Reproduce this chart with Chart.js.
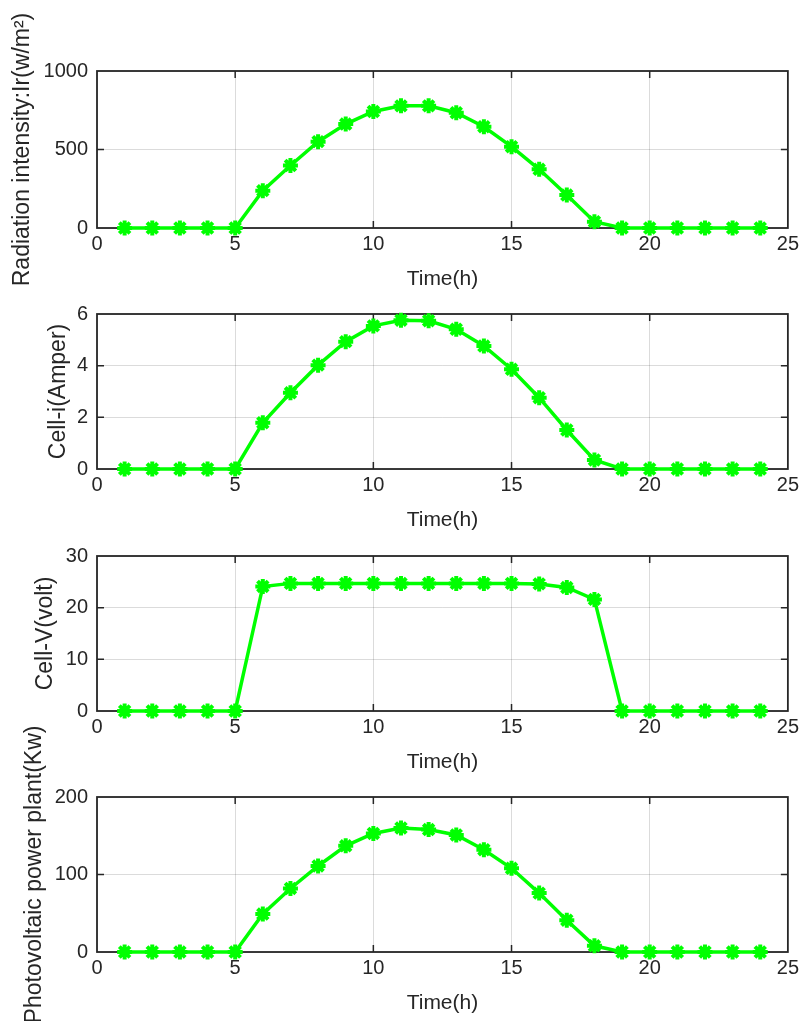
<!DOCTYPE html>
<html>
<head>
<meta charset="utf-8">
<script src="https://cdn.jsdelivr.net/npm/chart.js@4.4.0/dist/chart.umd.min.js"></script>
<style>
  html, body { margin: 0; padding: 0; background: #ffffff; width: 803px; height: 1021px; overflow: hidden; }
  .panel { position: absolute; left: 0; width: 803px; }
</style>
</head>
<body>
<div class="panel" id="p1" style="top:-9px;height:307px"><canvas id="c1"></canvas></div>
<div class="panel" id="p2" style="top:234px;height:305px"><canvas id="c2"></canvas></div>
<div class="panel" id="p3" style="top:476px;height:305px"><canvas id="c3"></canvas></div>
<div class="panel" id="p4" style="top:717px;height:305px"><canvas id="c4"></canvas></div>
<script>
// ---- data ----
const hours = [1,2,3,4,5,6,7,8,9,10,11,12,13,14,15,16,17,18,19,20,21,22,23,24];
const radiation = [0,0,0,0,0,238,398,550,662,742,778,778,734,645,518,374,210,40,0,0,0,0,0,0];
const cellCurrent = [0,0,0,0,0,1.79,2.95,4.02,4.93,5.54,5.76,5.74,5.41,4.76,3.86,2.76,1.51,0.35,0,0,0,0,0,0];
const cellVoltage = [0,0,0,0,0,24.1,24.7,24.7,24.7,24.7,24.7,24.7,24.7,24.7,24.7,24.6,23.9,21.6,0,0,0,0,0,0];
const pvPower = [0,0,0,0,0,49,82,111,137,153,160,158,151,132,108,76,41,8,0,0,0,0,0,0];

const xTicks = [0,5,10,15,20,25];
const yTicksRadiation = [0,500,1000];
const yTicksCurrent = [0,2,4,6];
const yTicksVoltage = [0,10,20,30];
const yTicksPower = [0,100,200];

const xTitle = 'Time(h)';
const yTitles = ['Radiation intensity:Ir(w/m\u00B2)', 'Cell-i(Amper)', 'Cell-V(volt)', 'Photovoltaic power plant(Kw)'];

// ---- styling ----
const FONT = '"Liberation Sans", Arial, Helvetica, sans-serif';
const TXT = '#262626';
const GREEN = '#00ff00';

const boxPlugin = {
  id: 'boxTicks',
  beforeDatasetsDraw(chart) {
    const ctx = chart.ctx;
    const a = chart.chartArea;
    const xs = chart.scales.x, ys = chart.scales.y;
    const L = 7;
    ctx.save();
    ctx.strokeStyle = TXT;
    ctx.lineWidth = 1.5;
    ctx.beginPath();
    xs.ticks.forEach(t => {
      const px = xs.getPixelForValue(t.value);
      if (Math.abs(px - a.left) < 1 || Math.abs(px - a.right) < 1) return;
      ctx.moveTo(px, a.bottom); ctx.lineTo(px, a.bottom - L);
      ctx.moveTo(px, a.top); ctx.lineTo(px, a.top + L);
    });
    ys.ticks.forEach(t => {
      const py = ys.getPixelForValue(t.value);
      if (Math.abs(py - a.top) < 1 || Math.abs(py - a.bottom) < 1) return;
      ctx.moveTo(a.left, py); ctx.lineTo(a.left + L, py);
      ctx.moveTo(a.right, py); ctx.lineTo(a.right - L, py);
    });
    ctx.stroke();
    ctx.lineWidth = 1.8;
    ctx.strokeRect(a.left, a.top, a.right - a.left, a.bottom - a.top);
    ctx.restore();
  }
};

function makePanel(id, values, yTicks, yTitle, titlePad) {
  const data = hours.map((h, i) => ({ x: h, y: values[i] }));
  const yMin = yTicks[0], yMax = yTicks[yTicks.length - 1];
  new Chart(document.getElementById(id), {
    type: 'line',
    data: {
      datasets: [{
        data: data,
        borderColor: GREEN,
        backgroundColor: GREEN,
        borderWidth: 3.5,
        pointStyle: 'star',
        pointRadius: 7.5,
        pointBorderWidth: 4,
        pointBorderColor: GREEN,
        pointHoverRadius: 7.5,
        tension: 0,
        clip: false
      }]
    },
    options: {
      responsive: true,
      maintainAspectRatio: false,
      animation: false,
      events: [],
      layout: { padding: { top: 80, right: 14, bottom: 0, left: 0 } },
      plugins: { legend: { display: false }, tooltip: { enabled: false } },
      scales: {
        x: {
          type: 'linear',
          min: 0, max: 25,
          afterBuildTicks: s => { s.ticks = xTicks.map(v => ({ value: v })); },
          afterFit: s => { s.height = 70; },
          grid: { color: 'rgba(0,0,0,0.14)', lineWidth: 1, drawTicks: false },
          border: { display: false },
          ticks: { color: TXT, font: { family: FONT, size: 20 }, padding: 4, maxRotation: 0, callback: v => String(v) },
          title: { display: true, text: xTitle, color: TXT, font: { family: FONT, size: 21 }, padding: { top: 0, bottom: 6 } }
        },
        y: {
          type: 'linear',
          min: yMin, max: yMax,
          afterBuildTicks: s => { s.ticks = yTicks.map(v => ({ value: v })); },
          afterFit: s => { s.width = 97; },
          grid: { color: 'rgba(0,0,0,0.14)', lineWidth: 1, drawTicks: false },
          border: { display: false },
          ticks: { color: TXT, font: { family: FONT, size: 20 }, padding: 9, callback: v => String(v) },
          title: { display: true, text: yTitle, color: TXT, font: { family: FONT, size: 23 }, padding: { top: titlePad, bottom: 0 } }
        }
      }
    },
    plugins: [boxPlugin]
  });
}

makePanel('c1', radiation, yTicksRadiation, yTitles[0], 9);
makePanel('c2', cellCurrent, yTicksCurrent, yTitles[1], 45);
makePanel('c3', cellVoltage, yTicksVoltage, yTitles[2], 32);
makePanel('c4', pvPower, yTicksPower, yTitles[3], 21);
</script>
</body>
</html>
